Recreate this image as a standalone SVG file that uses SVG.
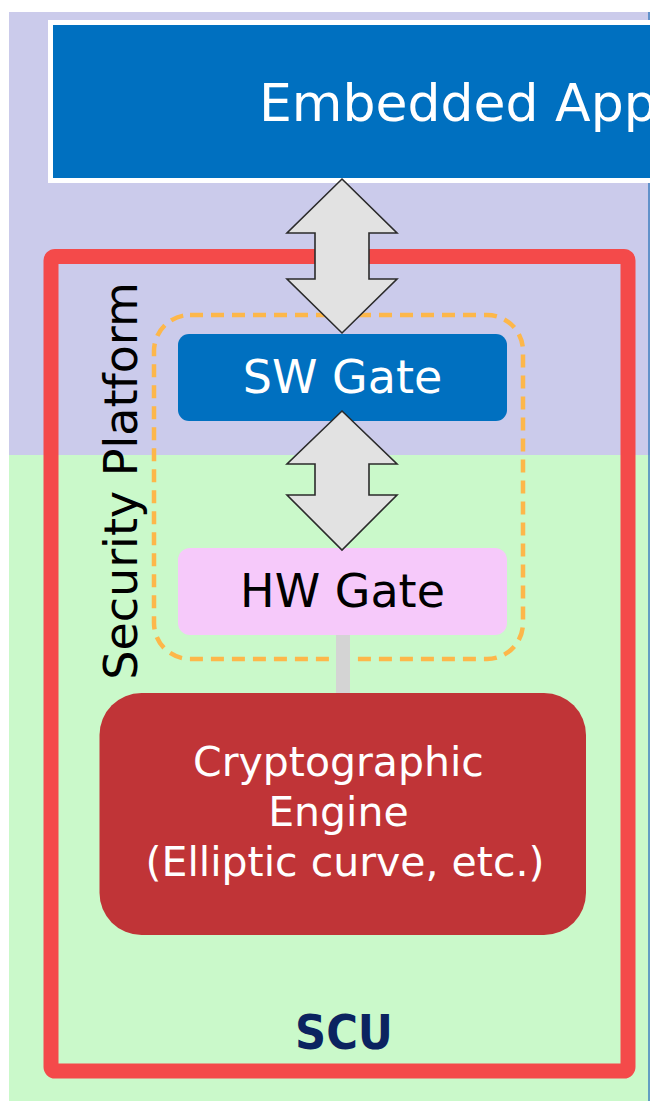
<svg xmlns="http://www.w3.org/2000/svg" width="650" height="1101" viewBox="0 0 650 1101">
  <style>
    .lbl { font-family: "DejaVu Sans", Verdana, sans-serif; }
    .white { fill: #ffffff; }
    .dbl { fill: #E2E2E2; stroke: #2b2b2b; stroke-width: 1.6; stroke-linejoin: miter; }
  </style>
  <rect x="0" y="0" width="650" height="1101" fill="#ffffff"/>
  <!-- background bands -->
  <rect x="9" y="12" width="641" height="443" fill="#CBCBEB"/>
  <rect x="9" y="455" width="641" height="646" fill="#CAF9CA"/>
  <line x1="649" y1="12" x2="649" y2="1101" stroke="#3F7FBF" stroke-width="1.5"/>

  <g id="scu">
    <rect x="51" y="256.5" width="577" height="814.5" rx="4" fill="none" stroke="#F44A4A" stroke-width="15"/>
    <text class="lbl" x="344" y="1049" text-anchor="middle" font-size="48" font-weight="bold" font-stretch="condensed" fill="#0B2360" style="font-family:'DejaVu Sans Condensed','DejaVu Sans',sans-serif">SCU</text>
  </g>

  <g id="security-platform">
    <rect x="154" y="315" width="369" height="344" rx="36" fill="none" stroke="#FDB74A" stroke-width="4.5" stroke-dasharray="13 8"/>
    <text class="lbl" transform="translate(137,481) rotate(-90)" x="0" y="0" text-anchor="middle" font-size="46" fill="#000000">Security Platform</text>
  </g>

  <g id="embedded-app">
    <rect x="50.5" y="22.5" width="700" height="158" fill="#0070C0" stroke="#ffffff" stroke-width="5"/>
    <text class="lbl white" x="259" y="121" font-size="52">Embedded App</text>
  </g>

  <g id="sw-gate">
    <rect x="178" y="334" width="329" height="87" rx="11" fill="#0070C0"/>
    <text class="lbl white" x="342.5" y="393" text-anchor="middle" font-size="46">SW Gate</text>
  </g>

  <g id="hw-gate">
    <rect x="178" y="548" width="329" height="87" rx="12" fill="#F6C9FA"/>
    <text class="lbl" x="342.5" y="607" text-anchor="middle" font-size="46" fill="#000000">HW Gate</text>
  </g>

  <g id="crypto-engine">
    <rect x="99.5" y="693" width="486.5" height="242" rx="42" fill="#C03437"/>
    <text class="lbl white" text-anchor="middle" font-size="41">
      <tspan x="345" y="776">Cryptographic</tspan>
      <tspan x="345" y="826">Engine</tspan>
      <tspan x="345" y="876">(Elliptic curve, etc.)</tspan>
    </text>
  </g>

  <g id="connectors">
    <line x1="343" y1="635" x2="343" y2="693" stroke="#D4D4D4" stroke-width="14"/>
    <polygon class="dbl" points="342,179 397,233 369,233 369,279 397,279 342,333 287,279 315,279 315,233 287,233"/>
    <polygon class="dbl" points="342,411 397,464 369,464 369,495 397,495 342,550 287,495 315,495 315,464 287,464"/>
  </g>
</svg>
